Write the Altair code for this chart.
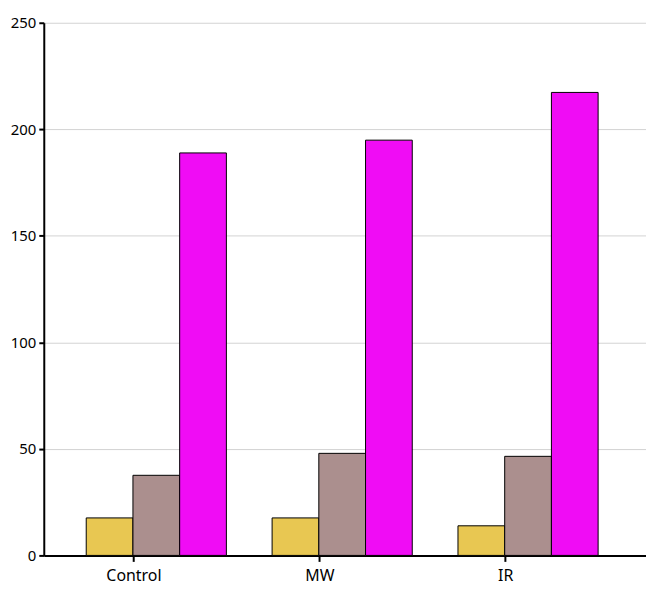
import altair as alt
import pandas as pd

categories = ["Control", "MW", "IR"]
series = ["A", "B", "C"]
series_colors = ["#E8C752", "#AB8F8E", "#F00CF5"]
values_a = [17.6, 17.6, 13.9]
values_b = [37.6, 47.9, 46.5]
values_c = [188.9, 194.9, 217.3]

rows = []
for i, c in enumerate(categories):
    for s, vals in zip(series, [values_a, values_b, values_c]):
        rows.append({"category": c, "series": s, "value": vals[i]})
df = pd.DataFrame(rows)

FONT = "Noto Sans"

chart = alt.Chart(df).mark_bar(stroke="black", strokeWidth=1).encode(
    x=alt.X("category:N", sort=categories, title=None,
            scale=alt.Scale(paddingInner=0.246, paddingOuter=0.243, align=0.47),
            axis=alt.Axis(labelAngle=0, domainColor="black", domainWidth=2,
                          tickColor="black", tickWidth=2, tickSize=6,
                          tickOffset=-23, labelFont=FONT, labelFontSize=16,
                          labelColor="black", labelPadding=6, grid=False)),
    xOffset=alt.XOffset("series:N", sort=series),
    y=alt.Y("value:Q", title=None,
            scale=alt.Scale(domain=[0, 250], nice=False),
            axis=alt.Axis(values=[0, 50, 100, 150, 200, 250], domainColor="black",
                          domainWidth=2, tickColor="black", tickWidth=2, tickSize=5,
                          labelFont=FONT, labelFontSize=15, labelColor="black",
                          labelPadding=3, gridColor="#d3d3d3", gridWidth=1)),
    color=alt.Color("series:N", sort=series,
                    scale=alt.Scale(domain=series, range=series_colors), legend=None),
).properties(
    width=606, height=536,
    autosize=alt.AutoSizeParams(type="none"),
    padding={"left": 36, "top": 13, "right": 0, "bottom": 40},
).configure_view(stroke=None)

chart.save("out.html", embed_options={"renderer": "svg", "actions": False})
